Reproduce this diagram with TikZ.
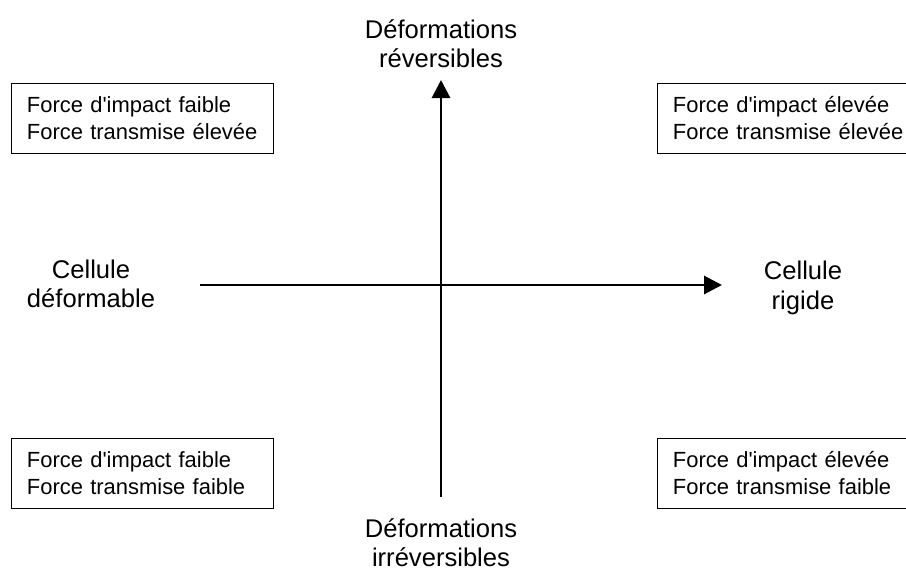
\documentclass[tikz,border=0pt]{standalone}
\usepackage{fontspec}
\setmainfont{Liberation Sans}
\usetikzlibrary{arrows.meta,positioning}

\begin{document}
\begin{tikzpicture}[x=0.025cm, y=-0.025cm,
        casebox/.style={rectangle, draw=black, line width=0.7pt,
                        minimum width=6.525cm, minimum height=1.75cm,
                        text width=5.775cm, inner xsep=0.375cm, align=left,
                        font=\fontsize{15.6}{19.2}\selectfont},
        axislabel/.style={align=center, inner sep=0pt,
                          font=\fontsize{18.2}{20.8}\selectfont},
        axisarrow/.style={-{Triangle[length=0.45cm, width=0.45cm]}, line width=2.1pt}
      ]
        \useasboundingbox (0,0) rectangle (906,572);
        \clip (0,0) rectangle (906,572);

        % quadrants
        \node[casebox] (hg) at (142.5,118) {Force d\textquotesingle impact faible\\Force transmise élevée};
        \node[casebox] (hd) at (788.5,118) {Force d\textquotesingle impact élevée\\Force transmise élevée};
        \node[casebox] (bg) at (142.5,473) {Force d\textquotesingle impact faible\\Force transmise faible};
        \node[casebox] (bd) at (788.5,473) {Force d\textquotesingle impact élevée\\Force transmise faible};

        % axis labels
        \node[axislabel] (rev)   at (441,44)  {Déformations\\réversibles};
        \node[axislabel] (irrev) at (441,543) {Déformations\\irréversibles};
        \node[axislabel] (defo)  at (91,284)  {Cellule\\déformable};
        \node[axislabel] (rig)   at (803,288) {Cellule\\rigide};

        % axes
        \coordinate (vbas)  at (441,497);
        \coordinate (vhaut) at (441,80);
        \coordinate (hgau)  at (200,285);
        \coordinate (hdro)  at (722,285);

        \draw[axisarrow] (vbas) -- (vhaut);
        \draw[axisarrow] (hgau) -- (hdro);
      \end{tikzpicture}
\end{document}
